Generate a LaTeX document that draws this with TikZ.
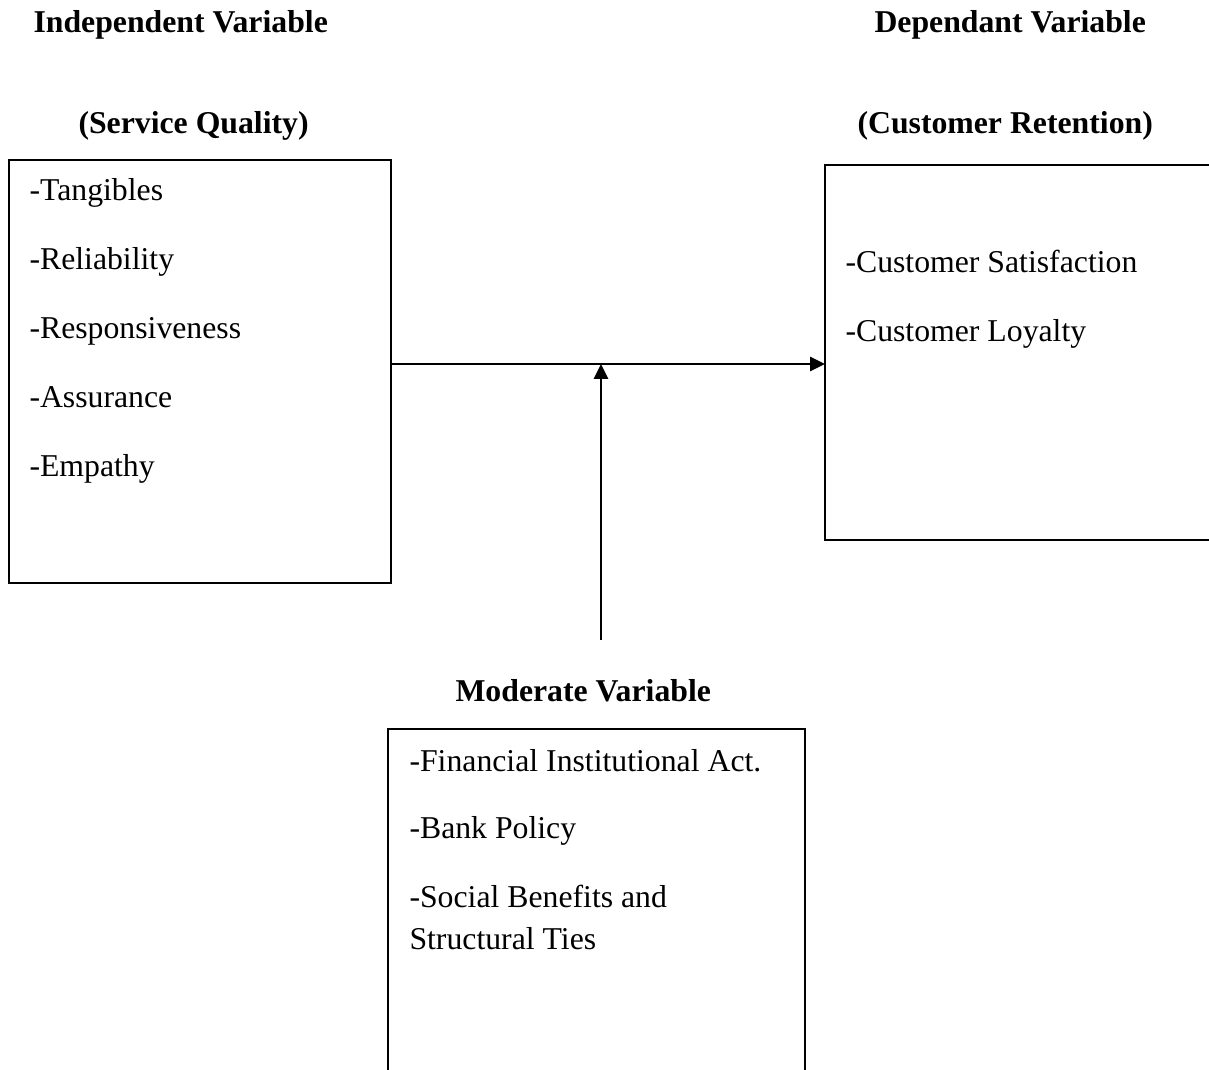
\documentclass[tikz,border=0pt]{standalone}
\usepackage{fontspec}
\setmainfont{Liberation Serif}
\usetikzlibrary{arrows.meta, positioning, calc}

\begin{document}
\begin{tikzpicture}[
    x=0.4pt, y=-0.4pt,
    varbox/.style={rectangle, draw, line width=1pt, inner sep=0pt, outer sep=0pt, anchor=north west},
    heading/.style={anchor=base west, inner sep=0pt, font=\fontsize{12.7}{15}\selectfont\bfseries},
    item/.style={anchor=base west, inner sep=0pt, font=\fontsize{12.7}{15}\selectfont},
    link/.style={line width=1.1pt, -{Triangle[length=6pt, width=5.6pt]}}
]
\useasboundingbox (0,0) rectangle (1209,1070);
\clip (0,0) rectangle (1209,1070);

% Headings
\node[heading] (IVTitle) at (33,33) {Independent Variable};
\node[heading] (IVSub) at (78,134) {(Service Quality)};
\node[heading] (DVTitle) at (874,33) {Dependant Variable};
\node[heading] (DVSub) at (857,134) {(Customer Retention)};
\node[heading] (MVTitle) at (455,702) {Moderate Variable};

% Boxes
\node[varbox, minimum width=382*0.4pt, minimum height=423*0.4pt] (IVBox) at (9,160) {};
\node[varbox, minimum width=420*0.4pt, minimum height=375*0.4pt] (DVBox) at (825,165) {};
\node[varbox, minimum width=417*0.4pt, minimum height=420*0.4pt] (MVBox) at (388,729) {};

% Independent items
\node[item] (Tang) at (29,201) {-Tangibles};
\node[item] (Reli) at (29,270) {-Reliability};
\node[item] (Resp) at (29,339) {-Responsiveness};
\node[item] (Assu) at (29,408) {-Assurance};
\node[item] (Empa) at (29,477) {-Empathy};

% Dependant items
\node[item] (Satis) at (845,273) {-Customer Satisfaction};
\node[item] (Loyal) at (845,342) {-Customer Loyalty};

% Moderate items
\node[item] (FinAct) at (409,772) {-Financial Institutional Act.};
\node[item] (BankPol) at (409,839) {-Bank Policy};
\node[item] (Social) at (409,908) {-Social Benefits and};
\node[item] (Ties) at (409,950) {Structural Ties};

% Connectors
\coordinate (Junction) at (601,364);
\coordinate (MVTop) at (601,640);
\draw[link] (IVBox.east |- Junction) -- (DVBox.west |- Junction);
\draw[link] (MVTop) -- (Junction);

\end{tikzpicture}
\end{document}
